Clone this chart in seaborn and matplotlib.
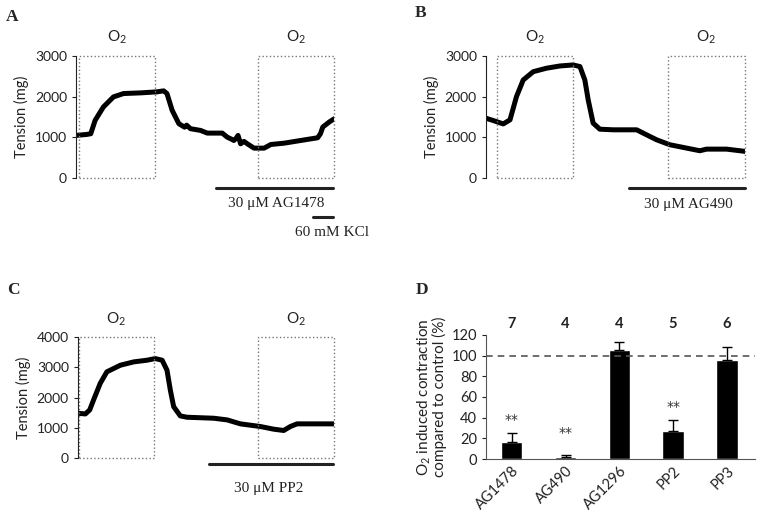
import matplotlib

matplotlib.use("Agg")

import matplotlib.pyplot as plt
import pandas as pd
import seaborn as sns

# traces (time in % of record, tension in mg)
a_time = [0, 4.1, 5.7, 7.4, 10.6, 14.5, 18.4, 24.9, 31.3, 33.9, 35.2, 37.2, 39.8, 42.0, 42.8,
          44.3, 48.2, 50.8, 56.6, 58.5, 60.0, 61.1, 62.0, 62.7, 63.7, 65.0, 66.3, 68.9,
          72.8, 75.4, 80.6, 87.0, 93.5, 94.6, 95.5, 98.0, 100]
a_tension = [1047, 1071, 1088, 1418, 1747, 1995, 2077, 2093, 2118, 2143, 2077, 1665, 1335, 1250,
             1300, 1212, 1170, 1104, 1104, 1005, 960, 923, 980, 1047, 841, 900, 841, 734,
             734, 824, 857, 923, 989, 1088, 1253, 1377, 1459]

b_time = [0, 2.8, 6.7, 9.3, 11.8, 14.4, 18.3, 23.4, 28.6, 33.7, 36.3, 38.2, 39.5, 41.4,
          44.0, 49.2, 58.2, 62.0, 65.9, 71.0, 77.5, 82.6, 85.2, 92.9, 100]
b_tension = [1470, 1414, 1330, 1430, 2000, 2410, 2615, 2700, 2755, 2780, 2740, 2410, 1920, 1350,
             1200, 1185, 1185, 1063, 940, 818, 735, 670, 710, 710, 655]

c_time = [0, 2.9, 4.6, 6.1, 8.7, 11.3, 16.6, 21.8, 27.0, 30.2, 32.9, 34.8, 36.1, 37.4,
          40.0, 42.6, 53.1, 58.3, 63.5, 71.3, 76.5, 80.4, 83.0, 85.6, 100]
c_tension = [1480, 1457, 1589, 1918, 2466, 2849, 3068, 3178, 3233, 3288, 3233, 2904, 2247, 1699,
             1392, 1348, 1315, 1260, 1129, 1041, 953, 910, 1041, 1129, 1129]

# panel D
drugs = ["AG1478", "AG490", "AG1296", "PP2", "PP3"]
contraction = [16.6, 2.2, 105, 27.4, 96.2]
sem = [9.0, 1.3, 8.0, 10.2, 11.8]
n_exp = ["7", "4", "4", "5", "6"]
signif = ["**", "**", "", "**", ""]
signif_y = [38, 25, 0, 50, 0]

SANS = ["Lato", "DejaVu Sans"]
SERIF = ["Liberation Serif", "DejaVu Serif"]

sns.set_style("ticks")
plt.rcParams["font.family"] = SANS
plt.rcParams["mathtext.default"] = "regular"

fig = plt.figure(figsize=(7.64, 5.2), dpi=100)


def trace_panel(rect, t, v, ymax, yticks, boxes, drug, drug_bar, drug_text_pos):
    ax = fig.add_axes(rect)
    sns.lineplot(x=t, y=v, ax=ax, color="black", lw=3.6, estimator=None, sort=False)
    ax.set_xlim(0, 100)
    ax.set_ylim(0, ymax)
    ax.set_yticks(yticks)
    ax.set_xticks([])
    for side in ["top", "right", "bottom"]:
        ax.spines[side].set_visible(False)
    ax.spines["left"].set_color("#222")
    ax.tick_params(axis="y", labelsize=10, length=3, colors="#222")
    ax.set_ylabel("Tension (mg)", fontsize=10.5, color="#222", labelpad=4)
    for x0, x1 in boxes:
        ax.plot([x0, x1, x1, x0, x0], [0, 0, ymax, ymax, 0], ls=":", lw=1,
                color="#777", clip_on=False)
        ax.text((x0 + x1) / 2, ymax * 1.15, "O$_2$", ha="center", va="center",
                fontsize=11, color="#222")
    ax.plot(drug_bar[:2], [drug_bar[2]] * 2, color="#222", lw=2.2, clip_on=False)
    ax.text(drug_text_pos[0], drug_text_pos[1], drug, ha="center", va="center",
            fontsize=11, family=SERIF, color="#222")
    return ax


ax_a = trace_panel([0.0995, 0.6577, 0.3382, 0.2346], a_time, a_tension, 3000,
                   [0, 1000, 2000, 3000], [(1.2, 30.6), (70.5, 100)],
                   "30 \u03bcM AG1478", (54.3, 99.6, -246), (77.5, -615))
ax_a.plot([91.9, 99.6], [-959, -959], color="#222", lw=2.2, clip_on=False)
ax_a.text(99, -1330, "60 mM KCl", ha="center", va="center", fontsize=11,
          family=SERIF, color="#222")

ax_b = trace_panel([0.636, 0.6577, 0.339, 0.2346], b_time, b_tension, 3000,
                   [0, 1000, 2000, 3000], [(4.2, 33.6), (70.3, 100)],
                   "30 \u03bcM AG490", (55.2, 100, -246), (78, -660))

ax_c = trace_panel([0.102, 0.1192, 0.335, 0.2327], c_time, c_tension, 4000,
                   [0, 1000, 2000, 3000, 4000], [(0.4, 29.7), (70.3, 100)],
                   "30 \u03bcM PP2", (51.2, 99.6, -198), (74.6, -992))

# panel D
ax_d = fig.add_axes([0.636, 0.1173, 0.352, 0.2385])
df = pd.DataFrame({"drug": drugs, "value": contraction})
sns.barplot(data=df, x="drug", y="value", ax=ax_d, color="black", width=0.4,
            errorbar=None, saturation=1)
ax_d.errorbar(range(len(drugs)), contraction, yerr=[[0] * len(sem), sem], fmt="none",
              ecolor="black", elinewidth=1, capsize=3.5, capthick=1)
ax_d.axhline(100, ls=(0, (4, 3)), color="#555", lw=1.2)
ax_d.set_xlim(-0.48, 4.52)
ax_d.set_ylim(0, 120)
ax_d.set_yticks(range(0, 121, 20))
ax_d.tick_params(axis="y", labelsize=10.5, length=3, colors="#222")
ax_d.tick_params(axis="x", length=0, labelsize=10.5, colors="#222")
plt.setp(ax_d.get_xticklabels(), rotation=45, ha="right", rotation_mode="anchor")
ax_d.set_xlabel("")
ax_d.set_ylabel("O$_2$ induced contraction\ncompared to control (%)", fontsize=11,
                color="#222", labelpad=3, linespacing=0.95)
for side in ["top", "right"]:
    ax_d.spines[side].set_visible(False)
ax_d.spines["left"].set_color("#555")
ax_d.spines["bottom"].set_color("#555")
for i in range(len(drugs)):
    ax_d.text(i, 131, n_exp[i], ha="center", va="center", fontsize=10.5,
              fontweight="bold", color="#222", clip_on=False)
    if signif[i]:
        ax_d.text(i, signif_y[i], signif[i], ha="center", va="center", fontsize=10,
                  family=["DejaVu Sans"], color="#333")

for letter, (x, y) in {"A": (0.016, 0.967), "B": (0.55, 0.975), "C": (0.017, 0.442),
                       "D": (0.552, 0.442)}.items():
    fig.text(x, y, letter, fontsize=12.5, fontweight="bold", family=SERIF,
             ha="center", va="center")

fig.savefig("out.png", dpi=100)
